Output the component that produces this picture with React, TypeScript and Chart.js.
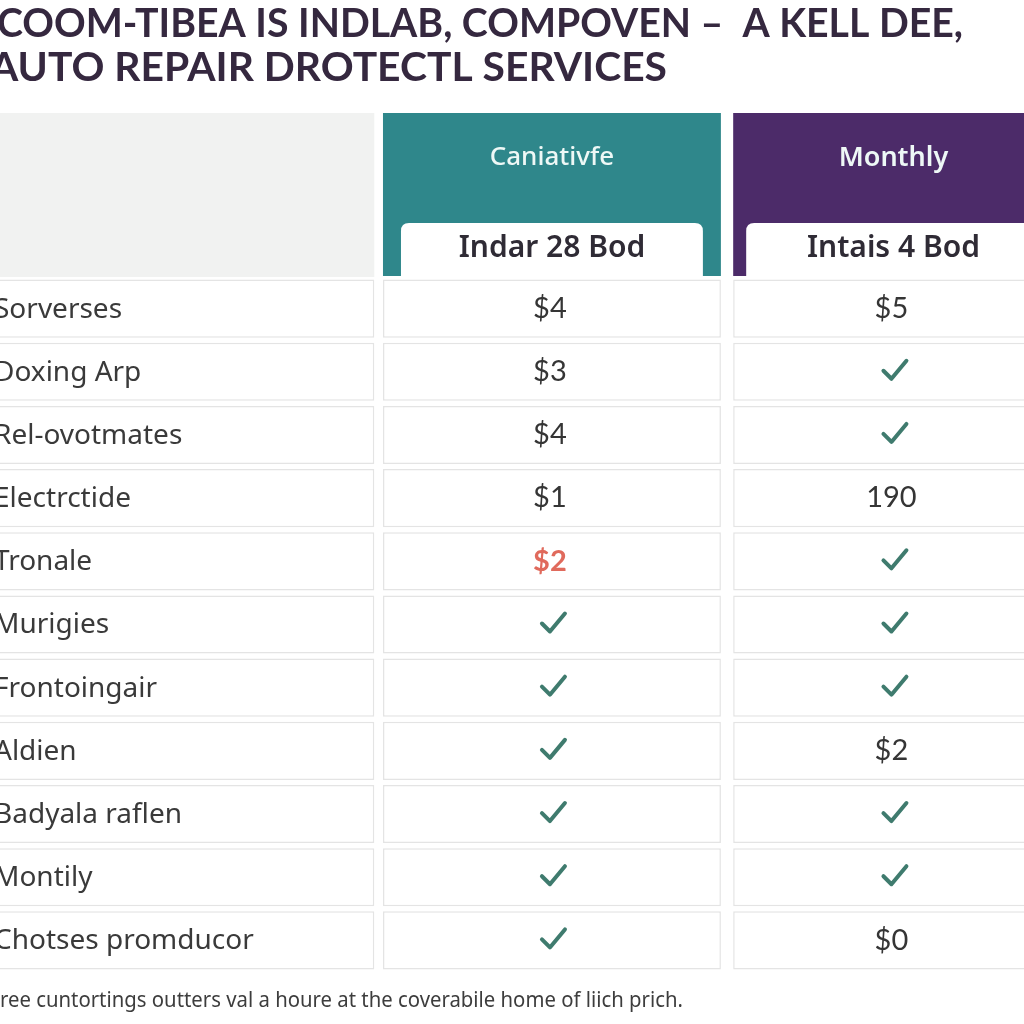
import React, { useEffect, useRef } from 'react';
import { Chart, registerables } from 'chart.js';

Chart.register(...registerables);

// ---------- data ----------
const TITLE_LINES = ['COOM-TIBEA IS INDLAB, COMPOVEN –  A KELL DEE,', 'AUTO REPAIR DROTECTL SERVICES'];
const ROW_LABELS = [
  'Sorverses',
  'Doxing Arp',
  'Rel-ovotmates',
  'Electrctide',
  'Tronale',
  'Murigies',
  'Frontoingair',
  'Aldien',
  'Badyala raflen',
  'Montily',
  'Chotses promducor',
];
const PLAN_NAMES = ['Caniativfe', 'Monthly'];
const PLAN_SUBTITLES = ['Indar 28 Bod', 'Intais 4 Bod'];
const PLAN_A_VALUES = ['$4', '$3', '$4', '$1', '$2', '✓', '✓', '✓', '✓', '✓', '✓'];
const PLAN_B_VALUES = ['$5', '✓', '✓', '190', '✓', '✓', '✓', '$2', '✓', '✓', '$0'];
const PLAN_A_HIGHLIGHT_ROWS = [4];
const FOOTNOTE = 'ree cuntortings outters val a houre at the coverabile home of liich prich.';

// ---------- layout (x scale in percent of width) ----------
const LABEL_SPAN: [number, number] = [-3, 36.55];
const PLAN_A_SPAN: [number, number] = [37.4, 70.4];
const PLAN_B_SPAN: [number, number] = [71.6, 102.9];

const TEAL = '#2f878b';
const PURPLE = '#4c2b69';
const TEXT = '#353535';
const CHECK = '#3f7b6e';

function drawCheck(ctx: CanvasRenderingContext2D, cx: number, cy: number) {
  ctx.save();
  ctx.strokeStyle = CHECK;
  ctx.lineWidth = 4;
  ctx.lineCap = 'round';
  ctx.lineJoin = 'round';
  ctx.beginPath();
  ctx.moveTo(cx - 11, cy + 1);
  ctx.lineTo(cx - 3, cy + 9);
  ctx.lineTo(cx + 12, cy - 9);
  ctx.stroke();
  ctx.restore();
}

function fitText(ctx: CanvasRenderingContext2D, text: string, x: number, y: number, width: number) {
  const w = ctx.measureText(text).width;
  ctx.save();
  ctx.translate(x, y);
  ctx.scale(width / w, 1);
  ctx.fillText(text, 0, 0);
  ctx.restore();
}

function roundTopRect(ctx: CanvasRenderingContext2D, x: number, y: number, w: number, h: number, r: number) {
  ctx.beginPath();
  ctx.moveTo(x, y + h);
  ctx.lineTo(x, y + r);
  ctx.quadraticCurveTo(x, y, x + r, y);
  ctx.lineTo(x + w - r, y);
  ctx.quadraticCurveTo(x + w, y, x + w, y + r);
  ctx.lineTo(x + w, y + h);
  ctx.closePath();
}

export default function App() {
  const ref = useRef<HTMLCanvasElement>(null);

  useEffect(() => {
    const canvas = ref.current;
    if (!canvas) return;

    const tablePlugin = {
      id: 'tableDecor',
      afterDatasetsDraw(chart: any) {
        const { ctx, scales } = chart;
        const yScale = scales.y;
        ctx.save();
        // row labels
        ctx.font = '28px "Noto Sans"';
        ctx.fillStyle = '#3a3a3a';
        ctx.textBaseline = 'middle';
        ctx.textAlign = 'left';
        ROW_LABELS.forEach((lab, i) => {
          ctx.fillText(lab, -6, yScale.getPixelForValue(i) + 1);
        });
        // values
        const drawCol = (dsIndex: number, values: string[], highlights: number[]) => {
          const meta = chart.getDatasetMeta(dsIndex);
          meta.data.forEach((bar: any, i: number) => {
            const cx = (bar.x + bar.base) / 2;
            const cy = bar.y;
            const v = values[i];
            if (v === '✓') {
              drawCheck(ctx, cx + 1, cy - 2);
            } else {
              const hl = highlights.includes(i);
              ctx.font = hl ? 'bold 29px Lato' : '29px Lato';
              ctx.fillStyle = hl ? '#e06a5c' : TEXT;
              ctx.textAlign = 'center';
              ctx.textBaseline = 'middle';
              ctx.fillText(v, cx - 2, cy);
            }
          });
        };
        drawCol(1, PLAN_A_VALUES, PLAN_A_HIGHLIGHT_ROWS);
        drawCol(2, PLAN_B_VALUES, []);
        ctx.restore();
      },
      afterDraw(chart: any) {
        const { ctx, chartArea, scales } = chart;
        const xs = scales.x;
        const top = chartArea.top;
        const headerTop = top - 164;
        ctx.save();
        // title
        ctx.fillStyle = '#35283f';
        ctx.textBaseline = 'alphabetic';
        ctx.textAlign = 'left';
        ctx.font = 'bold 41px Lato';
        fitText(ctx, TITLE_LINES[0], -3, 37, 966);
        fitText(ctx, TITLE_LINES[1], -10, 81, 677);

        // header cells
        const px = (s: [number, number]) => [xs.getPixelForValue(s[0]), xs.getPixelForValue(s[1])];
        const [l0, l1] = px(LABEL_SPAN);
        ctx.fillStyle = '#f1f2f1';
        ctx.fillRect(l0, headerTop, l1 - l0, top - headerTop);

        const spans = [PLAN_A_SPAN, PLAN_B_SPAN];
        const colors = [TEAL, PURPLE];
        const insets = [18, 13];
        spans.forEach((s, k) => {
          const [a, b] = px(s);
          ctx.fillStyle = colors[k];
          ctx.fillRect(a, headerTop, b - a, top - headerTop - 1);
          // plan name
          ctx.fillStyle = '#eef8f6';
          ctx.font = k === 0 ? '500 26px "Noto Sans"' : '600 27px "Noto Sans"';
          ctx.textAlign = 'center';
          ctx.textBaseline = 'middle';
          ctx.fillText(PLAN_NAMES[k], (a + b) / 2, headerTop + 45);
          // subtitle box
          const ia = a + insets[k];
          const ib = b - insets[k];
          ctx.fillStyle = '#ffffff';
          roundTopRect(ctx, ia, top - 54, ib - ia, 54, 8);
          ctx.fill();
          ctx.fillStyle = '#2f2b35';
          ctx.font = '600 30px "Noto Sans"';
          ctx.fillText(PLAN_SUBTITLES[k], (ia + ib) / 2, top - 29);
        });

        // footnote
        ctx.fillStyle = '#3d3d3d';
        ctx.font = '21px "Noto Sans"';
        ctx.textAlign = 'left';
        ctx.textBaseline = 'alphabetic';
        fitText(ctx, FOOTNOTE, 0, 1007, 683);
        ctx.restore();
      },
    };

    const cellStyle = {
      backgroundColor: '#ffffff',
      borderColor: '#e4e4e4',
      borderWidth: 1.5,
      borderSkipped: false as const,
      grouped: false,
      barPercentage: 0.92,
      categoryPercentage: 1,
    };

    const chart = new Chart(canvas, {
      type: 'bar',
      data: {
        labels: ROW_LABELS,
        datasets: [
          { label: 'Feature', data: ROW_LABELS.map(() => LABEL_SPAN), ...cellStyle },
          { label: PLAN_NAMES[0], data: PLAN_A_VALUES.map(() => PLAN_A_SPAN), ...cellStyle },
          { label: PLAN_NAMES[1], data: PLAN_B_VALUES.map(() => PLAN_B_SPAN), ...cellStyle },
        ] as any,
      },
      options: {
        indexAxis: 'y',
        responsive: false,
        animation: false,
        devicePixelRatio: 1,
        layout: { padding: { top: 277, bottom: 52, left: 0, right: 0 } },
        plugins: {
          legend: { display: false },
          title: { display: false },
          tooltip: { enabled: false },
        },
        scales: {
          x: { type: 'linear', min: 0, max: 100, display: false },
          y: { type: 'category', display: false, offset: true },
        },
      },
      plugins: [tablePlugin],
    });

    return () => chart.destroy();
  }, []);

  return (
    <div style={{ position: 'fixed', left: 0, top: 0, width: 1024, height: 1024, background: '#ffffff' }}>
      <canvas ref={ref} width={1024} height={1024} style={{ display: 'block', width: 1024, height: 1024 }} />
    </div>
  );
}
